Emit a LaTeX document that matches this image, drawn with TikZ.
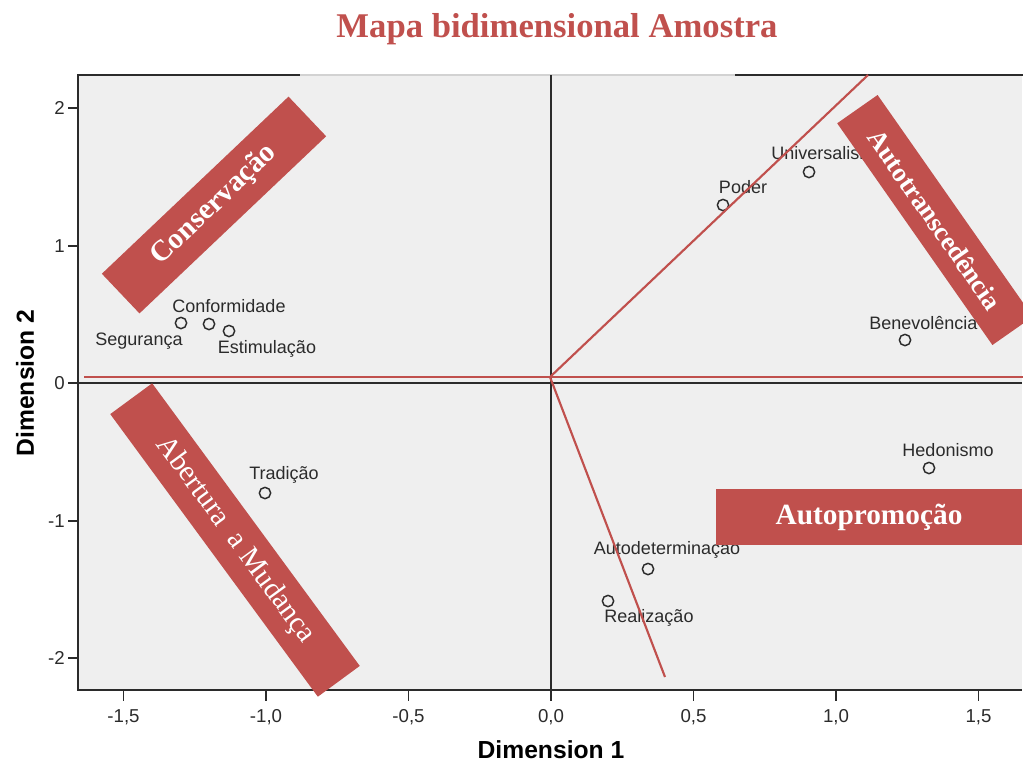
\documentclass[tikz,border=0pt]{standalone}
\usepackage{fontspec}
\setmainfont{Liberation Serif}
\setsansfont{Liberation Sans}
\definecolor{accent}{HTML}{C0504D}
\definecolor{plotbg}{HTML}{EFEFEF}
\definecolor{ink}{HTML}{2B2B2B}
\begin{document}
\begin{tikzpicture}[x=0.75pt,y=-0.75pt,
  band/.style={fill=accent, draw=none, text=white, inner sep=0pt, align=center,
    font=\bfseries\fontsize{22}{24}\selectfont},
  pt/.style={circle, draw=ink, line width=1.1pt, minimum size=8.5pt, inner sep=0pt},
  lbl/.style={font=\sffamily\fontsize{13.5}{15}\selectfont, text=ink, inner sep=0pt},
  ticklbl/.style={font=\sffamily\fontsize{14}{15}\selectfont, text=ink, inner sep=0pt},
  axtitle/.style={font=\sffamily\bfseries\fontsize{18.5}{20}\selectfont, text=black, inner sep=0pt},
  refline/.style={accent, line width=1.6pt},
  axisline/.style={ink, line width=1.3pt}]
\useasboundingbox (0,0) rectangle (1023,765);
\clip (0,0) rectangle (1023,765);

% title
\node[anchor=base, text=accent, inner sep=0pt, font=\bfseries\fontsize{26}{28}\selectfont] (title) at (557,37) {Mapa bidimensional Amostra};

% plot area and frame
\fill[plotbg] (78,75) rectangle (1022,690);
\draw[axisline] (300,75) -- (78,75) -- (78,690) -- (1022,690);
\draw[axisline] (735,75) -- (1023,75);
\draw[gray!35, line width=1.2pt] (300,75) -- (735,75);

% ticks
\foreach \x/\t in {123.5/-1{,}5, 266/-1{,}0, 408.5/-0{,}5, 551/0{,}0, 693.5/0{,}5, 836/1{,}0, 978.5/1{,}5}{
  \draw[axisline] (\x,690) -- (\x,701);
  \node[ticklbl] (xt\x) at (\x,717) {\t};
}
\foreach \y/\t in {108/2, 246/1, 383/0, 521/-1, 658/-2}{
  \draw[axisline] (68,\y) -- (78,\y);
  \node[ticklbl, anchor=east] (yt\y) at (65,\y) {\t};
}
\node[axtitle] (xtitle) at (551,750) {Dimension 1};
\node[axtitle, rotate=90] (ytitle) at (25,383) {Dimension 2};

% zero axes
\coordinate (o) at (551,383);
\draw[axisline] (551,75) -- (551,690);
\draw[axisline] (78,383) -- (1022,383);

% points
\node[pt] (seg) at (181,323) {};
\node[pt] (con) at (209,324) {};
\node[pt] (est) at (229,331) {};
\node[pt] (tra) at (265,493) {};
\node[pt] (pod) at (723,205) {};
\node[pt] (uni) at (809,172) {};
\node[pt] (ben) at (905,340) {};
\node[pt] (hed) at (929,468) {};
\node[pt] (aut) at (648,569) {};
\node[pt] (rea) at (608,601) {};

\node[lbl] (lseg) at (139,341) {Segurança};
\node[lbl] (lcon) at (229,306) {Conformidade};
\node[lbl] (lest) at (267,349) {Estimulação};
\node[lbl] (ltra) at (284,475) {Tradição};
\node[lbl] (lpod) at (743,187) {Poder};
\node[lbl, anchor=west] (luni) at (771,153) {Universalismo};
\node[lbl, anchor=west] (lben) at (869,323) {Benevolência};
\node[lbl] (lhed) at (948,450) {Hedonismo};
\node[lbl] (laut) at (667,550) {Autodeterminaçao};
\node[lbl] (lrea) at (649,618) {Realização};

% reference lines
\coordinate (c) at (550,377);
\coordinate (hl) at (84,377);
\coordinate (hr) at (1023,377);
\coordinate (up) at (868,75);
\coordinate (dn) at (665,677);
\draw[refline] (hl) -- (hr);
\draw[refline] (c) -- (up);
\draw[refline] (c) -- (dn);

% bands
\node[band, rotate=43.5, minimum width=193pt, minimum height=41pt] (bcons) at (214,205) {Conservação};
\node[band, rotate=-55, minimum width=203pt, minimum height=37pt, font=\bfseries\fontsize{20}{22}\selectfont] (btrans) at (935,220) {Autotranscedência};
\node[band, rotate=-53.7, minimum width=263pt, minimum height=39pt, font=\fontsize{22}{24}\selectfont] (babert) at (235,540) {Abertura~~a Mudança};
\node[band, minimum width=230pt, minimum height=42pt] (bprom) at (869,517) {Autopromoção};
\end{tikzpicture}
\end{document}
